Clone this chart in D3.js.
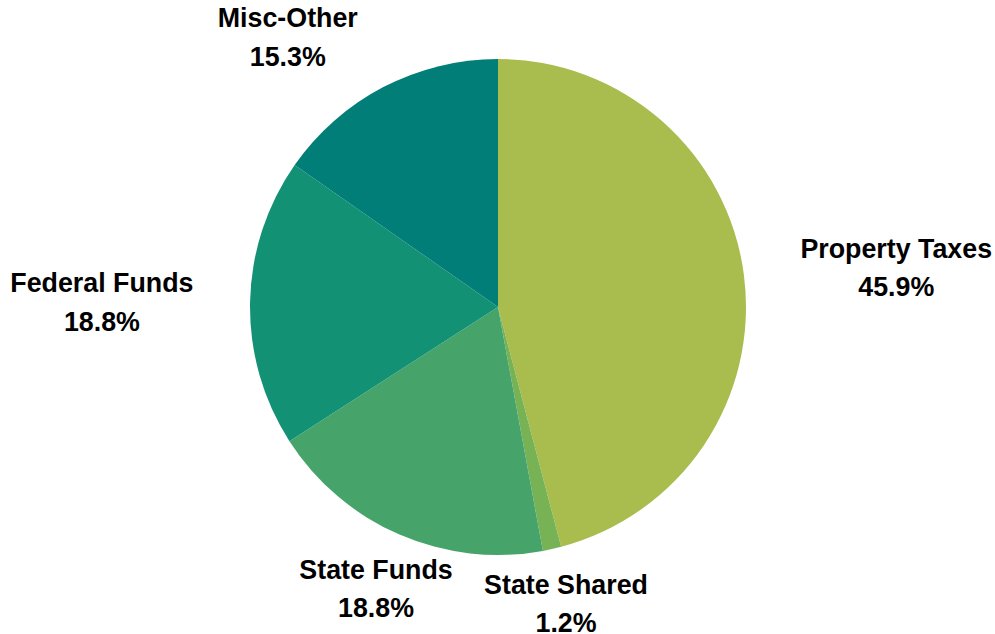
<!DOCTYPE html>
<html>
<head>
<meta charset="utf-8">
<script src="https://cdn.jsdelivr.net/npm/d3@7"></script>
<style>
  html, body { margin: 0; padding: 0; background: #ffffff; }
  svg { display: block; }
</style>
</head>
<body>
<svg id="chart" width="995" height="634"></svg>
<script>
// ---- data ----
const categories = ["Property Taxes", "State Shared", "State Funds", "Federal Funds", "Misc-Other"];
const shares = [45.9, 1.2, 18.8, 18.8, 15.3];
const shareLabels = ["45.9%", "1.2%", "18.8%", "18.8%", "15.3%"];
const sliceColors = ["#a8bd4e", "#77b255", "#46a46b", "#139175", "#027e78"];

// ---- layout ----
const W = 995, H = 634;
const cx = 498, cy = 307, R = 248;
const labelGap = 40;
const fontSize = 26.8, lineGap = 38.5;
// fine adjustments of label blocks (pixels), per category
const labelNudge = [[14, 10], [-6, -35], [17, -40], [-16, 2], [-48, 41]];

const svg = d3.select("#chart");
const g = svg.append("g").attr("transform", `translate(${cx},${cy})`);

const rows = categories.map((c, i) => ({ name: c, value: shares[i], label: shareLabels[i], color: sliceColors[i], i }));

const pie = d3.pie().sort(null).value(d => d.value);
const arcs = pie(rows);
const arc = d3.arc().innerRadius(0).outerRadius(R);

g.selectAll("path.slice")
  .data(arcs)
  .join("path")
  .attr("class", "slice")
  .attr("d", arc)
  .attr("fill", d => d.data.color);

const labels = g.selectAll("g.lbl")
  .data(arcs)
  .join("g")
  .attr("class", "lbl");

labels.each(function(d) {
  const sel = d3.select(this);
  sel.append("text")
    .attr("text-anchor", "middle")
    .attr("font-family", "'Liberation Sans', Arial, sans-serif")
    .attr("font-weight", "bold")
    .attr("font-size", fontSize)
    .attr("fill", "#000")
    .attr("y", -lineGap / 2 + fontSize * 0.36)
    .text(d.data.name);
  sel.append("text")
    .attr("text-anchor", "middle")
    .attr("font-family", "'Liberation Sans', Arial, sans-serif")
    .attr("font-weight", "bold")
    .attr("font-size", fontSize)
    .attr("fill", "#000")
    .attr("y", lineGap / 2 + fontSize * 0.36)
    .text(d.data.label);
  const bb = this.getBBox();
  const mid = (d.startAngle + d.endAngle) / 2;
  const ux = Math.sin(mid), uy = -Math.cos(mid);
  const ext = Math.abs(ux) * bb.width / 2 + Math.abs(uy) * bb.height / 2;
  const dist = R + labelGap + ext;
  const nudge = labelNudge[d.data.i];
  const x = ux * dist + nudge[0];
  const y = uy * dist + nudge[1];
  sel.attr("transform", `translate(${x},${y})`);
});
</script>
</body>
</html>
